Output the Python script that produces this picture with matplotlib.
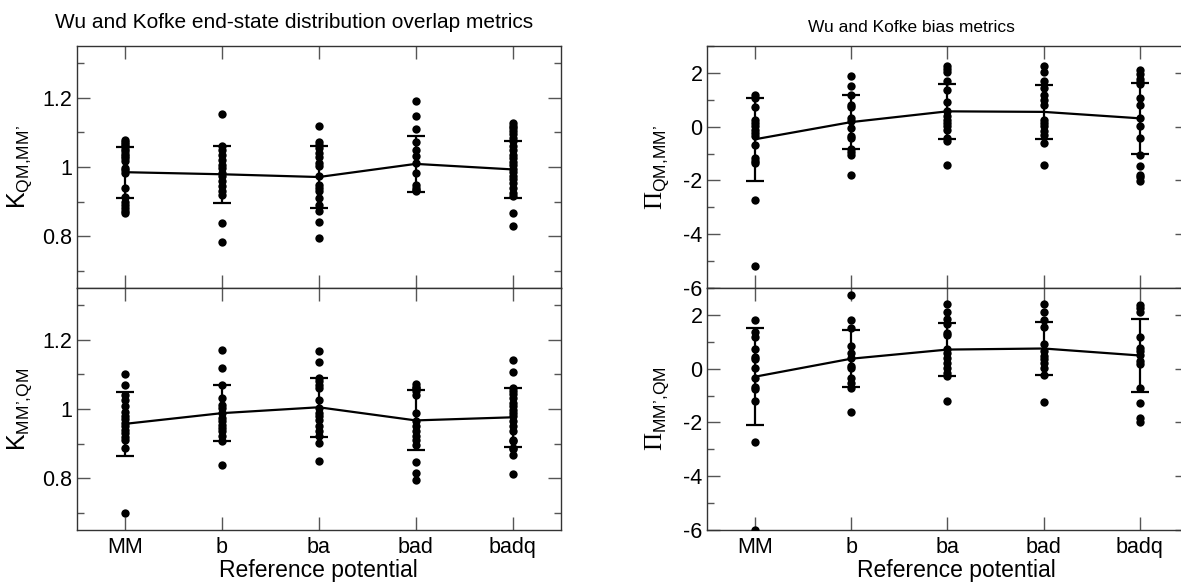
import numpy as np
import matplotlib
matplotlib.use("Agg")
import matplotlib.pyplot as plt
from matplotlib.ticker import MultipleLocator, FuncFormatter

plt.rcParams['font.family'] = ['Liberation Sans', 'DejaVu Sans']
plt.rcParams['mathtext.fontset'] = 'custom'
plt.rcParams['mathtext.rm'] = 'Liberation Serif'
plt.rcParams['mathtext.sf'] = 'Liberation Sans'
plt.rcParams['mathtext.it'] = 'Liberation Sans:italic'

categories = ["MM", "b", "ba", "bad", "badq"]

# K_QM,MM'
k_qm_mm_points = [
    [1.077, 1.072, 1.066, 1.060, 1.053, 1.046, 1.039, 1.032, 1.025, 1.018, 0.998, 0.990, 0.984, 0.940, 0.912, 0.900, 0.890, 0.880, 0.872, 0.867],
    [1.153, 1.060, 1.050, 1.036, 1.020, 1.007, 0.997, 0.983, 0.973, 0.959, 0.944, 0.930, 0.920, 0.838, 0.783],
    [1.120, 1.072, 1.063, 1.055, 1.040, 1.030, 1.012, 1.003, 0.973, 0.949, 0.939, 0.930, 0.910, 0.891, 0.872, 0.840, 0.795],
    [1.192, 1.148, 1.110, 1.071, 1.050, 1.031, 1.012, 0.983, 0.949, 0.939, 0.934, 0.930],
    [1.127, 1.120, 1.112, 1.104, 1.095, 1.085, 1.075, 1.060, 1.050, 1.036, 1.025, 1.015, 1.005, 0.995, 0.985, 0.975, 0.965, 0.955, 0.940, 0.925, 0.915, 0.867, 0.829],
]
k_qm_mm_mean = [0.985, 0.979, 0.971, 1.009, 0.993]
k_qm_mm_err = [0.074, 0.083, 0.090, 0.082, 0.082]

# K_MM',QM
k_mm_qm_points = [
    [1.102, 1.070, 1.040, 1.027, 1.010, 0.990, 0.980, 0.970, 0.960, 0.950, 0.940, 0.930, 0.920, 0.910, 0.887, 0.700],
    [1.172, 1.119, 1.070, 1.032, 1.013, 1.003, 0.988, 0.975, 0.965, 0.955, 0.945, 0.935, 0.921, 0.906, 0.837],
    [1.167, 1.135, 1.090, 1.080, 1.070, 1.061, 1.027, 1.003, 0.988, 0.979, 0.969, 0.950, 0.935, 0.921, 0.902, 0.849],
    [1.072, 1.065, 1.060, 1.051, 1.041, 0.988, 0.964, 0.950, 0.935, 0.921, 0.911, 0.897, 0.846, 0.815, 0.796],
    [1.143, 1.106, 1.061, 1.051, 1.042, 1.032, 1.017, 1.008, 0.998, 0.988, 0.979, 0.964, 0.950, 0.935, 0.911, 0.906, 0.887, 0.883, 0.868, 0.812],
]
k_mm_qm_mean = [0.957, 0.988, 1.005, 0.967, 0.976]
k_mm_qm_err = [0.093, 0.082, 0.086, 0.087, 0.085]

# Pi_QM,MM'
pi_qm_mm_points = [
    [1.19, 1.07, 0.73, 0.26, 0.14, 0.01, -0.11, -0.24, -0.36, -0.67, -1.17, -1.29, -1.36, -2.72, -5.2],
    [1.88, 1.53, 1.19, 0.82, 0.73, 0.32, 0.20, -0.05, -0.34, -0.42, -0.83, -0.96, -1.04, -1.79],
    [2.25, 2.15, 2.02, 1.69, 1.38, 0.92, 0.57, 0.39, 0.26, 0.14, 0.01, -0.11, -0.42, -0.55, -1.42],
    [2.25, 2.02, 1.69, 1.44, 1.19, 1.00, 0.82, 0.26, 0.14, 0.01, -0.17, -0.30, -0.61, -1.42],
    [2.09, 1.96, 1.78, 1.65, 1.57, 1.07, 0.82, 0.32, 0.04, -0.42, -1.04, -1.48, -1.79, -1.89, -2.01],
]
pi_qm_mm_mean = [-0.47, 0.17, 0.57, 0.55, 0.31]
pi_qm_mm_err = [1.535, 1.0, 1.03, 1.0, 1.31]

# Pi_MM',QM
pi_mm_qm_points = [
    [1.80, 1.37, 1.16, 0.75, 0.43, 0.35, 0.04, -0.34, -0.68, -0.77, -1.20, -2.72, -5.99],
    [2.75, 1.80, 1.50, 0.84, 0.60, 0.41, 0.10, 0.01, -0.34, -0.52, -0.71, -1.61],
    [2.40, 2.12, 1.84, 1.65, 1.34, 1.25, 0.72, 0.60, 0.41, 0.22, 0.04, -0.15, -0.27, -1.20],
    [2.40, 2.12, 1.81, 1.55, 0.93, 0.66, 0.47, 0.35, 0.22, 0.04, -0.24, -1.24],
    [2.37, 2.25, 2.10, 1.16, 0.77, 0.64, 0.52, 0.27, 0.17, -0.72, -1.27, -1.83, -1.99],
]
pi_mm_qm_mean = [-0.30, 0.37, 0.71, 0.75, 0.49]
pi_mm_qm_err = [1.80, 1.06, 0.98, 0.99, 1.34]

W, H = 1181, 582
fig = plt.figure(figsize=(W / 100, H / 100), dpi=100)

def rect(x0, y0, x1, y1):
    return [x0 / W, 1 - y1 / H, (x1 - x0) / W, (y1 - y0) / H]

ax_tl = fig.add_axes(rect(76.5, 46, 561, 288))
ax_bl = fig.add_axes(rect(76.5, 288, 561, 530))
ax_tr = fig.add_axes(rect(706.7, 46, 1188, 288))
ax_br = fig.add_axes(rect(706.7, 288, 1188, 530))

xs = np.arange(1, len(categories) + 1)

def fmt_k(v, pos):
    s = f"{v:.1f}"
    return "1" if abs(v - 1) < 1e-9 else s

def draw(ax, pts, mean, err, ylim, major, minor, ylabel, formatter, show_x):
    for x, p in zip(xs, pts):
        ax.plot(np.full(len(p), x), p, 'o', color='black', markersize=6,
                markeredgewidth=0, zorder=3)
    ax.plot(xs, mean, color='black', lw=1.6, zorder=4)
    ax.errorbar(xs, mean, yerr=err, fmt='none', ecolor='black', elinewidth=1.6,
                capsize=6.5, capthick=1.6, zorder=4)
    ax.set_xlim(0.5, 5.5)
    ax.set_ylim(*ylim)
    ax.yaxis.set_major_locator(MultipleLocator(major))
    ax.yaxis.set_minor_locator(MultipleLocator(minor))
    ax.yaxis.set_major_formatter(FuncFormatter(formatter))
    ax.set_xticks(xs)
    if show_x:
        ax.set_xticklabels(categories)
        ax.set_xlabel("Reference potential", fontsize=16.5)
    else:
        ax.set_xticklabels([])
    ax.tick_params(which='both', direction='in', top=True, right=True,
                   color='#555555', labelsize=15.5, pad=3)
    ax.tick_params(which='major', length=9.5, width=1)
    ax.tick_params(which='minor', length=5, width=1)
    ax.tick_params(axis='x', pad=5)
    for s in ax.spines.values():
        s.set_color('#333333')
        s.set_linewidth(1.0)
    ax.set_ylabel(ylabel, fontsize=18)

draw(ax_tl, k_qm_mm_points, k_qm_mm_mean, k_qm_mm_err, (0.65, 1.35), 0.2, 0.1,
     r"K$_{\mathsf{QM{,}MM’}}$", fmt_k, False)
draw(ax_bl, k_mm_qm_points, k_mm_qm_mean, k_mm_qm_err, (0.65, 1.35), 0.2, 0.1,
     r"K$_{\mathsf{MM’{,}QM}}$", fmt_k, True)
fmt_i = lambda v, pos: f"{v:.0f}"
draw(ax_tr, pi_qm_mm_points, pi_qm_mm_mean, pi_qm_mm_err, (-6, 3), 2, 1,
     r"$\Pi_{\mathsf{QM{,}MM’}}$", fmt_i, False)
draw(ax_br, pi_mm_qm_points, pi_mm_qm_mean, pi_mm_qm_err, (-6, 3), 2, 1,
     r"$\Pi_{\mathsf{MM’{,}QM}}$", fmt_i, True)

for ax in (ax_tl, ax_bl):
    ax.yaxis.set_label_coords(-0.088, 0.5)
for ax in (ax_tr, ax_br):
    ax.yaxis.set_label_coords(-0.074, 0.5)
ax_bl.xaxis.set_label_coords(0.5, -0.12)
ax_br.xaxis.set_label_coords(0.518, -0.12)

fig.text(294.5 / W, 1 - 22 / H, "Wu and Kofke end-state distribution overlap metrics",
         ha='center', va='center', fontsize=15)
fig.text(911 / W, 1 - 28 / H, "Wu and Kofke bias metrics",
         ha='center', va='center', fontsize=12.5)

fig.savefig("out.png", dpi=100)
